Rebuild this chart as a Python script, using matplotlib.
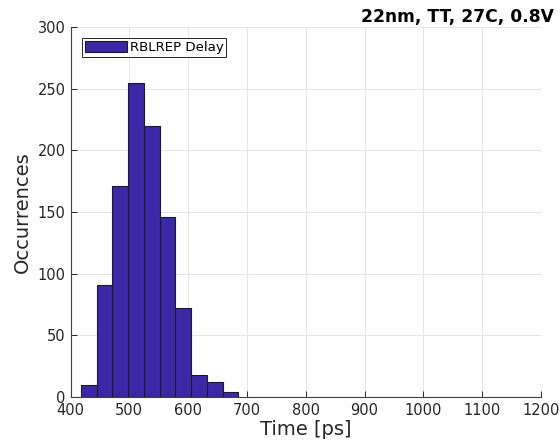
import numpy as np
import matplotlib
matplotlib.use('Agg')
import matplotlib.pyplot as plt

# histogram counts
bin_start = 417.6
bin_width = 26.8
counts = [10, 91, 171, 255, 220, 146, 72, 18, 12, 4]
label = 'RBLREP Delay'
title = '22nm, TT, 27C, 0.8V'

edges = bin_start + bin_width * np.arange(len(counts) + 1)

fig = plt.figure(figsize=(5.6, 4.47), dpi=100)
ax = fig.add_axes([70.5 / 560, 50 / 447, (541 - 70.5) / 560, (397 - 27) / 447])

ax.hist(edges[:-1], bins=edges, weights=counts, color='#3c28a6',
        edgecolor='#1a1a2e', linewidth=0.8, label=label, zorder=3)

ax.set_xlim(400, 1200)
ax.set_ylim(0, 300)
ax.set_xticks(np.arange(400, 1201, 100))
ax.set_yticks(np.arange(0, 301, 50))
ax.grid(True, color='#e6e6e6', linewidth=0.8, zorder=0)
ax.set_axisbelow(True)

for side in ['top', 'right']:
    ax.spines[side].set_visible(False)
for side in ['left', 'bottom']:
    ax.spines[side].set_color('#404040')
    ax.spines[side].set_linewidth(0.8)
ax.tick_params(direction='in', length=4, colors='#262626', labelsize=10.5,
               width=0.7)
ax.tick_params(axis='x', pad=4)

ax.set_xlabel('Time [ps]', fontsize=14, color='#262626', labelpad=2)
ax.set_ylabel('Occurrences', fontsize=14, color='#262626', labelpad=4)

leg = ax.legend(loc='upper left', fontsize=9.6, fancybox=False, framealpha=1,
                edgecolor='#262626', borderpad=0.2, handlelength=3.2,
                handleheight=0.9, handletextpad=0.2, borderaxespad=0,
                bbox_to_anchor=(0.0245, 0.970))
leg.get_frame().set_linewidth(0.7)

fig.text(554 / 560, 1 - 17 / 447, title, ha='right', va='center',
         fontsize=12.3, fontweight='bold')

fig.savefig('out.png', dpi=100)
